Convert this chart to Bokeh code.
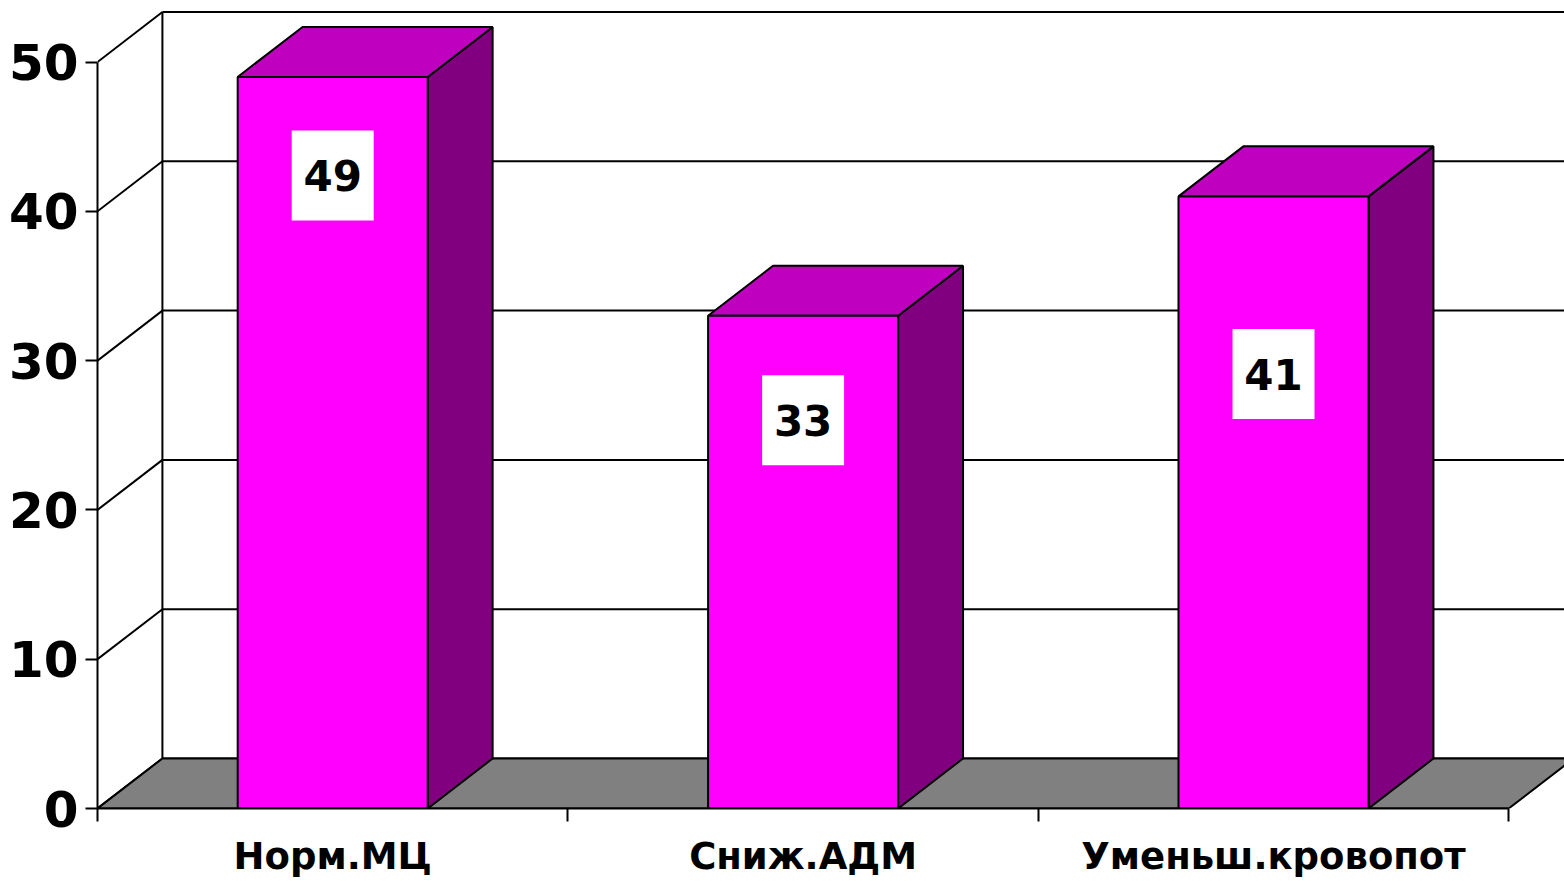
from bokeh.plotting import figure
from bokeh.models import Range1d, LinearAxis, FixedTicker
from bokeh.core.properties import value
from bokeh.embed import file_html
from bokeh.resources import INLINE

# ---- data ----
categories = ["Норм.МЦ", "Сниж.АДМ", "Уменьш.кровопот"]
values = [49, 33, 41]
y_ticks = [0, 10, 20, 30, 40, 50]

# ---- style ----
BAR_W = 0.404          # bar front width (category units)
DX = 0.138             # 3D depth offset, x (category units)
DY = 3.35              # 3D depth offset, y (value units)
label_drop = [6.6, 7.0, 11.9]   # how far below the bar top each value box sits
FONT = "DejaVu Sans"
FRONT, TOP, SIDE = "#FF00FF", "#BF00BF", "#800080"
X_END = 3.1186
Y_END = 54.12

n = len(categories)
centers = [i + 0.5 for i in range(n)]
bounds = list(range(n + 1))
ymax = max(y_ticks)

p = figure(width=1564, height=881, output_backend="svg", toolbar_location=None,
           x_range=Range1d(0, X_END), y_range=Range1d(0, Y_END),
           x_axis_location=None, y_axis_location=None,
           min_border_left=97, min_border_right=0, min_border_top=0, min_border_bottom=73)
p.outline_line_color = None
p.background_fill_color = "white"
p.border_fill_color = "white"
p.grid.visible = False

# back wall gridlines
p.multi_line(xs=[[DX, X_END] for v in y_ticks], ys=[[v + DY, v + DY] for v in y_ticks],
             line_color="black", line_width=2)
# side wall diagonals
p.multi_line(xs=[[0, DX] for v in y_ticks], ys=[[v, v + DY] for v in y_ticks],
             line_color="black", line_width=2)
# back wall left edge
p.line(x=[DX, DX], y=[DY, ymax + DY], line_color="black", line_width=2)

# floor
p.patch(x=[0, n, n + DX, DX], y=[0, 0, DY, DY], fill_color="#808080",
        line_color="black", line_width=2)

# bars
lefts = [c - BAR_W / 2 for c in centers]
rights = [c + BAR_W / 2 for c in centers]
side_xs = [[r, r + DX, r + DX, r] for r in rights]
side_ys = [[0, DY, v + DY, v] for v in values]
top_xs = [[l, r, r + DX, l + DX] for l, r in zip(lefts, rights)]
top_ys = [[v, v, v + DY, v + DY] for v in values]
p.patches(xs=side_xs, ys=side_ys, fill_color=SIDE, line_color="black", line_width=2)
p.patches(xs=top_xs, ys=top_ys, fill_color=TOP, line_color="black", line_width=2)
p.quad(left=lefts, right=rights, bottom=[0] * n, top=values, fill_color=FRONT,
       line_color="black", line_width=2)

# value labels
label_y = [v - d for v, d in zip(values, label_drop)]
p.rect(x=centers, y=label_y, width=82, height=90, width_units="screen", height_units="screen",
       fill_color="white", line_color=None)
p.text(x=centers, y=label_y, text=[str(v) for v in values], text_font=value(FONT),
       text_font_style="bold", text_font_size="42px", text_align="center",
       text_baseline="middle", text_color="black")

# axes
yaxis = LinearAxis(ticker=FixedTicker(ticks=y_ticks, minor_ticks=[]), bounds=(min(y_ticks), ymax),
                   major_tick_out=12, major_tick_in=0, minor_tick_out=0, minor_tick_in=0,
                   axis_line_width=2, major_tick_line_width=2, axis_line_color="black",
                   major_label_text_font=FONT, major_label_text_font_style="bold",
                   major_label_text_font_size="50px", major_label_standoff=7,
                   major_label_text_color="black")
p.add_layout(yaxis, "left")

xaxis = LinearAxis(ticker=FixedTicker(ticks=centers, minor_ticks=bounds), bounds=(0, n),
                   major_tick_out=0, major_tick_in=0, minor_tick_out=13, minor_tick_in=0,
                   minor_tick_line_width=2, minor_tick_line_color="black",
                   axis_line_width=2, axis_line_color="black",
                   major_label_overrides={c: name for c, name in zip(centers, categories)},
                   major_label_text_font=FONT, major_label_text_font_style="bold",
                   major_label_text_font_size="37px", major_label_standoff=13,
                   major_label_text_color="black")
p.add_layout(xaxis, "below")

open("out.html", "w").write(file_html(p, INLINE))
